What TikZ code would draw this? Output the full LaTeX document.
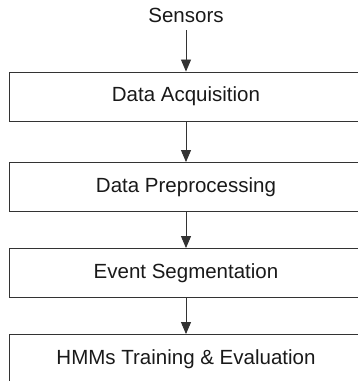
\documentclass[tikz,border=0pt]{standalone}
\usepackage{fontspec}
\setmainfont{Liberation Sans}
\usetikzlibrary{arrows.meta}
\begin{document}
\begin{tikzpicture}[x=1pt,y=1pt,
  stagebox/.style={draw=black!80, line width=0.9pt, minimum width=354pt, minimum height=49pt, inner sep=0pt, text=black!90, font=\fontsize{20.5}{24}\selectfont},
  flow/.style={draw=black!80, line width=0.9pt, -{Triangle[length=12pt,width=10pt]}}]
\useasboundingbox (0,0) rectangle (358,381);
\clip (0,0) rectangle (358,381);
\node[inner sep=0pt, anchor=base, text=black!90, font=\fontsize{20.5}{24}\selectfont] (sensors) at (186,358) {Sensors};
\node[stagebox] (acq) at (186,284.5) {Data Acquisition};
\node[stagebox] (pre) at (186,194) {Data Preprocessing};
\node[stagebox] (seg) at (186,108) {Event Segmentation};
\node[stagebox] (hmm) at (186,22) {HMMs Training \& Evaluation};
\draw[flow, shorten <=7pt] (sensors.south) -- (acq.north);
\draw[flow] (acq.south) -- (pre.north);
\draw[flow] (pre.south) -- (seg.north);
\draw[flow] (seg.south) -- (hmm.north);
\end{tikzpicture}
\end{document}
